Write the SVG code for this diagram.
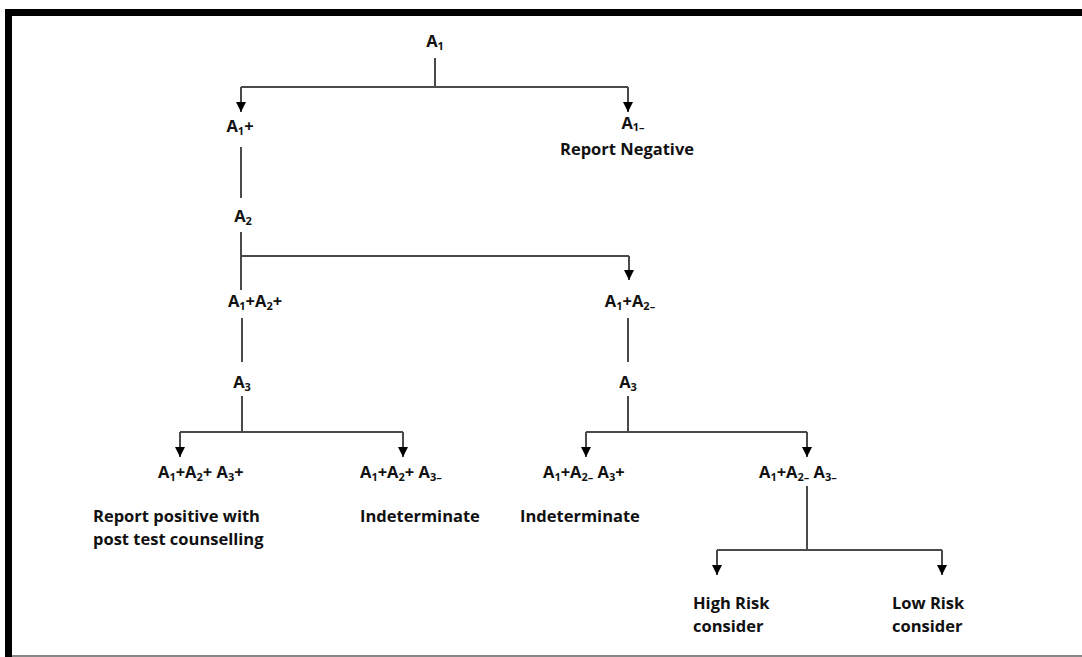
<svg xmlns="http://www.w3.org/2000/svg" width="1082" height="657" viewBox="0 0 1082 657">
<style>
text{font-family:"Open Sans","Liberation Sans",sans-serif;font-weight:700;font-size:16.5px;fill:#111}
.m{text-anchor:middle}
.s{font-size:11px}
.c{fill:none;stroke:#4a4a4a;stroke-width:2}
.a{fill:none;stroke:#4a4a4a;stroke-width:2;marker-end:url(#ah)}
</style>
<defs>
<marker id="ah" markerUnits="userSpaceOnUse" markerWidth="10" markerHeight="11" refX="10" refY="5" orient="auto" viewBox="0 0 10 10">
<path d="M0,0 L10,5 L0,10 z" fill="#000"/>
</marker>
</defs>
<rect x="0" y="0" width="1082" height="657" fill="#fff"/>
<g id="frame">
<rect x="5" y="9" width="7" height="648" fill="#000"/>
<rect x="5" y="9" width="1077" height="7" fill="#000"/>
<line x1="12" y1="656" x2="1082" y2="656" stroke="#888" stroke-width="2"/>
</g>
<g id="connectors">
<path class="c" d="M435 58 V87 M241 87 H628"/>
<path class="a" d="M241 87 V112"/>
<path class="a" d="M628 87 V112"/>
<path class="c" d="M241 147 V198"/>
<path class="c" d="M241 232 V290 M241 256 H629"/>
<path class="a" d="M629 256 V280"/>
<path class="c" d="M242 318 V362 M628 318 V362"/>
<path class="c" d="M242 396 V432 M180 432 H403"/>
<path class="a" d="M180 432 V457"/>
<path class="a" d="M403 432 V457"/>
<path class="c" d="M628 396 V432 M586 432 H807"/>
<path class="a" d="M586 432 V457"/>
<path class="a" d="M807 432 V457"/>
<path class="c" d="M807 486 V550 M717 550 H942"/>
<path class="a" d="M717 550 V575"/>
<path class="a" d="M942 550 V575"/>
</g>
<g id="n-a1"><text class="m" x="435" y="47">A<tspan class="s" dy="3">1</tspan></text></g>
<g id="n-a1pos"><text class="m" x="240" y="132">A<tspan class="s" dy="3">1</tspan><tspan dy="-3">+</tspan></text></g>
<g id="n-a1neg"><text class="m" x="633" y="129">A<tspan class="s" dy="2">1–</tspan></text>
<text x="560" y="155">Report Negative</text></g>
<g id="n-a2"><text class="m" x="243" y="222">A<tspan class="s" dy="3">2</tspan></text></g>
<g id="n-a1pa2p"><text class="m" x="255" y="307">A<tspan class="s" dy="3">1</tspan><tspan dy="-3">+A</tspan><tspan class="s" dy="3">2</tspan><tspan dy="-3">+</tspan></text></g>
<g id="n-a1pa2n"><text class="m" x="630" y="307">A<tspan class="s" dy="3">1</tspan><tspan dy="-3">+A</tspan><tspan class="s" dy="3">2–</tspan></text></g>
<g id="n-a3l"><text class="m" x="242" y="388">A<tspan class="s" dy="3">3</tspan></text></g>
<g id="n-a3r"><text class="m" x="628" y="388">A<tspan class="s" dy="3">3</tspan></text></g>
<g id="n-ppp"><text x="158" y="478">A<tspan class="s" dy="3">1</tspan><tspan dy="-3">+A</tspan><tspan class="s" dy="3">2</tspan><tspan dy="-3">+ A</tspan><tspan class="s" dy="3">3</tspan><tspan dy="-3">+</tspan></text>
<text x="93" y="522">Report positive with</text>
<text x="93" y="545">post test counselling</text></g>
<g id="n-ppn"><text x="360" y="478">A<tspan class="s" dy="3">1</tspan><tspan dy="-3">+A</tspan><tspan class="s" dy="3">2</tspan><tspan dy="-3">+ A</tspan><tspan class="s" dy="3">3–</tspan></text>
<text x="360" y="522">Indeterminate</text></g>
<g id="n-pnp"><text x="543" y="478">A<tspan class="s" dy="3">1</tspan><tspan dy="-3">+A</tspan><tspan class="s" dy="3">2–</tspan><tspan dy="-3"> A</tspan><tspan class="s" dy="3">3</tspan><tspan dy="-3">+</tspan></text>
<text x="520" y="522">Indeterminate</text></g>
<g id="n-pnn"><text x="759" y="478">A<tspan class="s" dy="3">1</tspan><tspan dy="-3">+A</tspan><tspan class="s" dy="3">2–</tspan><tspan dy="-3"> A</tspan><tspan class="s" dy="3">3–</tspan></text></g>
<g id="n-high"><text x="693" y="609">High Risk</text><text x="693" y="632">consider</text></g>
<g id="n-low"><text x="892" y="609">Low Risk</text><text x="892" y="632">consider</text></g>
</svg>
